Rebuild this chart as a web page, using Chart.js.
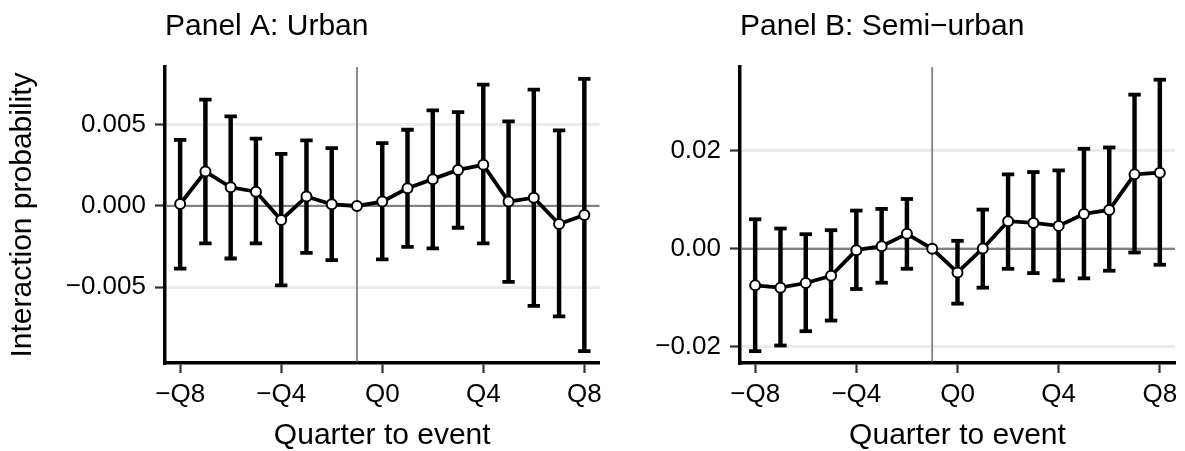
<!DOCTYPE html>
<html>
<head>
<meta charset="utf-8">
<script src="https://cdn.jsdelivr.net/npm/chart.js@4.4.1/dist/chart.umd.min.js"></script>
<style>
  body { margin: 0; background: #fff; }
  .wrap { position: relative; width: 1185px; height: 451px; overflow: hidden; background: #fff; }
  canvas { position: absolute; top: 0; }
  #urbanChart { left: 0; }
  #semiChart { left: 600px; }
</style>
</head>
<body>
<div class="wrap">
  <canvas id="urbanChart" width="620" height="460"></canvas>
  <canvas id="semiChart" width="585" height="460"></canvas>
</div>
<script>
// ------------------------------------------- Data --------------------------------------------------

const quarters = [-8, -7, -6, -5, -4, -3, -2, -1, 0, 1, 2, 3, 4, 5, 6, 7, 8];
const refQuarter = -1;
const xTicks = [-8, -4, 0, 4, 8];
const xTickLabels = ['−Q8', '−Q4', 'Q0', 'Q4', 'Q8'];

// Panel A: Urban
const urbanEst = [0.00012, 0.00212, 0.00115, 0.00088, -0.00086, 0.00058, 0.0001, 0, 0.00027, 0.00109, 0.00165, 0.00222, 0.00253, 0.00027, 0.00051, -0.00111, -0.00056];
const urbanLo = [-0.00385, -0.0023, -0.00323, -0.0023, -0.00488, -0.00288, -0.00333, null, -0.00329, -0.00251, -0.00261, -0.00134, -0.0023, -0.00467, -0.00615, -0.00679, -0.00893];
const urbanHi = [0.00407, 0.00654, 0.00551, 0.00414, 0.00321, 0.00403, 0.00356, null, 0.00387, 0.00469, 0.00588, 0.00578, 0.00747, 0.00521, 0.00716, 0.00465, 0.00782];
const urbanTicks = [-0.005, 0, 0.005];
const urbanTickLabels = ['−0.005', '0.000', '0.005'];

// Panel B: Semi-urban
const semiEst = [-0.00746, -0.00793, -0.00698, -0.00549, -0.00027, 0.00054, 0.00305, 0, -0.00481, 0.00007, 0.00563, 0.00529, 0.00468, 0.00712, 0.00793, 0.01519, 0.01553];
const semiLo = [-0.02088, -0.01973, -0.01681, -0.01464, -0.0082, -0.00692, -0.00407, null, -0.01119, -0.00793, -0.00407, -0.00495, -0.00644, -0.00603, -0.00447, -0.00075, -0.00325];
const semiHi = [0.00603, 0.00414, 0.00298, 0.0038, 0.0078, 0.00814, 0.01017, null, 0.00163, 0.008, 0.01519, 0.01566, 0.016, 0.02041, 0.02068, 0.03146, 0.03451];
const semiTicks = [-0.02, 0, 0.02];
const semiTickLabels = ['−0.02', '0.00', '0.02'];


// ------------------------------------------- Chart.js --------------------------------------------------

Chart.defaults.font.family = "'Liberation Sans', Arial, sans-serif";
Chart.defaults.color = '#000';

// zero line + reference quarter line, under the data
const refLines = {
    id: 'refLines',
    beforeDatasetsDraw(chart) {
        const {ctx, chartArea, scales} = chart;
        const y0 = scales.y.getPixelForValue(0);
        const xr = scales.x.getPixelForValue(refQuarter);
        ctx.save();
        ctx.strokeStyle = '#808080';
        ctx.lineWidth = 2.2;
        ctx.beginPath();
        ctx.moveTo(chartArea.left + 1.5, y0);
        ctx.lineTo(chartArea.right, y0);
        ctx.stroke();
        ctx.lineWidth = 1.8;
        ctx.beginPath();
        ctx.moveTo(xr, chartArea.top);
        ctx.lineTo(xr, chartArea.bottom - 1.5);
        ctx.stroke();
        ctx.restore();
    }
};

function makePanel(id, p) {
    const points = quarters.map((q, i) => ({x: q, y: p.est[i]}));
    const bars = [];
    const caps = [];
    quarters.forEach((q, i) => {
        if (p.lo[i] === null) return;
        bars.push({x: q, y: [p.lo[i], p.hi[i]]});
        caps.push({x: q, y: p.lo[i]});
        caps.push({x: q, y: p.hi[i]});
    });

    return new Chart(document.getElementById(id), {
        type: 'line',
        data: {
            datasets: [{
                type: 'line',
                data: points,
                borderColor: '#000',
                borderWidth: 3.8,
                tension: 0,
                pointRadius: 5,
                pointBorderWidth: 2,
                pointBackgroundColor: '#fff',
                pointBorderColor: '#000',
                order: 0
            }, {
                type: 'line',
                data: caps,
                showLine: false,
                pointStyle: 'line',
                pointRadius: 6.2,
                pointBorderWidth: 3.8,
                pointBorderColor: '#000',
                order: 1
            }, {
                type: 'bar',
                data: bars,
                backgroundColor: '#000',
                barThickness: 3.8,
                order: 2
            }]
        },
        options: {
            responsive: false,
            animation: false,
            events: [],
            layout: {
                padding: {left: 0, right: p.padRight, top: 0, bottom: 0}
            },
            plugins: {
                legend: {display: false},
                tooltip: {enabled: false},
                title: {
                    display: true,
                    text: p.title,
                    align: 'start',
                    fullSize: false,
                    color: '#000',
                    font: {size: 30, weight: 'normal'},
                    padding: {top: 9, bottom: 22}
                }
            },
            scales: {
                x: {
                    type: 'linear',
                    min: -8.6,
                    max: 8.6,
                    offset: false,
                    afterBuildTicks: s => { s.ticks = xTicks.map(v => ({value: v})); },
                    afterFit: s => { s.height = 97; },
                    ticks: {
                        callback: (v, i) => xTickLabels[i],
                        font: {size: 26},
                        color: '#000',
                        padding: 6,
                        maxRotation: 0,
                        autoSkip: false
                    },
                    grid: {offset: false, drawOnChartArea: false, tickLength: 10, tickWidth: 2.2, tickColor: '#333'},
                    border: {display: true, color: '#000', width: 3.5},
                    title: {
                        display: true,
                        text: 'Quarter to event',
                        color: '#000',
                        font: {size: 30},
                        padding: {top: 0, bottom: 6}
                    }
                },
                y: {
                    type: 'linear',
                    min: p.yMin,
                    max: p.yMax,
                    afterBuildTicks: s => { s.ticks = p.ticks.map(v => ({value: v})); },
                    afterFit: s => { s.width = p.axisLeft; },
                    ticks: {
                        callback: (v, i) => p.tickLabels[i],
                        font: {size: 26},
                        color: '#000',
                        padding: 9
                    },
                    grid: {color: '#ebebeb', lineWidth: 3, tickLength: 10, tickWidth: 2.2, tickColor: '#333'},
                    border: {display: true, color: '#000', width: 3.5},
                    title: {
                        display: p.yTitle !== '',
                        text: p.yTitle,
                        color: '#000',
                        font: {size: 30},
                        padding: {top: 5, bottom: 0}
                    }
                }
            }
        },
        plugins: [refLines]
    });
}

document.addEventListener('DOMContentLoaded', function(){
    makePanel('urbanChart', {
        title: 'Panel A: Urban',
        yTitle: 'Interaction probability',
        est: urbanEst, lo: urbanLo, hi: urbanHi,
        ticks: urbanTicks, tickLabels: urbanTickLabels,
        yMin: -0.00966, yMax: 0.00855,
        axisLeft: 165, padRight: 20.5
    });

    makePanel('semiChart', {
        title: 'Panel B: Semi−urban',
        yTitle: '',
        est: semiEst, lo: semiLo, hi: semiHi,
        ticks: semiTicks, tickLabels: semiTickLabels,
        yMin: -0.0233, yMax: 0.0371,
        axisLeft: 140, padRight: 10
    });
});
</script>
</body>
</html>
